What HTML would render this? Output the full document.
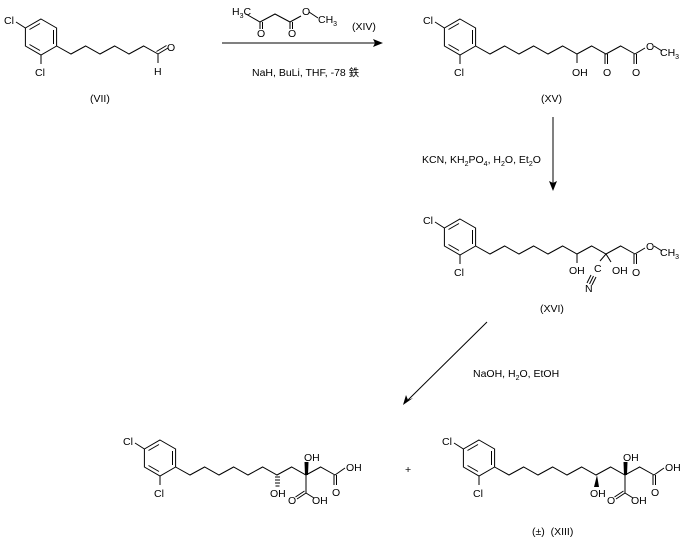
<!DOCTYPE html>
<html><head><meta charset="utf-8"><style>
html,body{margin:0;padding:0;background:#fff;}
svg{display:block;}
text{font-family:"Liberation Sans","Noto Sans CJK SC",sans-serif;font-size:10.5px;fill:#000;}
</style></head><body>
<svg width="687" height="544" viewBox="0 0 687 544" xmlns="http://www.w3.org/2000/svg">
<defs>
<g id="ring" stroke="#000" stroke-width="1" fill="none">
<polygon points="41,19 56.6,28 56.6,46 41,55 25.4,46 25.4,28"/>
<line x1="53.5" y1="30" x2="53.5" y2="44"/>
<line x1="29.5" y1="29.5" x2="40" y2="23.5"/>
<line x1="29.5" y1="44.5" x2="40" y2="50.5"/>
<line x1="25.4" y1="28" x2="16" y2="22"/>
<line x1="41" y1="55" x2="41" y2="64"/>
</g>
<g id="chain" stroke="#000" stroke-width="1" fill="none">
<polyline points="56.6,46 71,54 85.6,46 100,54 114.6,46 129,54 143.6,46 158,54 172.6,46 187,54 201.6,46 216,54"/>
</g>
</defs>
<g stroke="#000" stroke-width="1" fill="none">
<use href="#ring"/>
<polyline points="56.6,46 71,54 85.6,46 100,54 114.6,46 129,54 143.6,46 158,54"/>
<line x1="158" y1="54" x2="168" y2="48"/><line x1="156.5" y1="51.5" x2="166.5" y2="45.5"/>
<line x1="158" y1="54" x2="158" y2="63"/>
<polyline points="246,14 260,22 275,14 290,22 301,16"/>
<line x1="260" y1="22" x2="260" y2="29"/><line x1="262.5" y1="22" x2="262.5" y2="29"/>
<line x1="290" y1="22" x2="290" y2="29"/><line x1="292.5" y1="22" x2="292.5" y2="29"/>
<line x1="309" y1="12" x2="318" y2="18"/>
<line x1="222" y1="43" x2="378" y2="43"/>
<g transform="translate(419,0)">
<use href="#ring"/><use href="#chain"/>
<line x1="158" y1="54" x2="158" y2="63"/>
<line x1="186" y1="54" x2="186" y2="64"/><line x1="188.5" y1="54" x2="188.5" y2="64"/>
<line x1="215" y1="54" x2="215" y2="64"/><line x1="217.5" y1="54" x2="217.5" y2="64"/>
<line x1="216" y1="54" x2="226" y2="48"/><line x1="235" y1="46" x2="243" y2="51"/>
</g>
<line x1="553" y1="117" x2="553" y2="184"/>
<g transform="translate(419,200)">
<use href="#ring"/><use href="#chain"/>
<line x1="158" y1="54" x2="158" y2="63"/>
<line x1="187" y1="54" x2="181" y2="61"/>
<line x1="187" y1="54" x2="192" y2="62"/>
<line x1="168" y1="83" x2="172" y2="75"/><line x1="170.5" y1="84" x2="174.5" y2="76"/><line x1="173" y1="85" x2="177" y2="77"/>
<line x1="215" y1="54" x2="215" y2="64"/><line x1="217.5" y1="54" x2="217.5" y2="64"/>
<line x1="216" y1="54" x2="226" y2="48"/><line x1="235" y1="46" x2="243" y2="51"/>
</g>
<line x1="487" y1="322" x2="408" y2="400"/>
<g transform="translate(119,421)">
<use href="#ring"/><use href="#chain"/>
<line x1="187" y1="54" x2="187" y2="72"/>
<line x1="187" y1="72" x2="178" y2="78"/><line x1="185.5" y1="70" x2="176.5" y2="76"/>
<line x1="187" y1="72" x2="195" y2="77"/>
<line x1="215" y1="54" x2="215" y2="64"/><line x1="217.5" y1="54" x2="217.5" y2="64"/>
<line x1="216" y1="54" x2="226" y2="47"/>
</g>
<g transform="translate(438,421)">
<use href="#ring"/><use href="#chain"/>
<line x1="187" y1="54" x2="187" y2="72"/>
<line x1="187" y1="72" x2="178" y2="78"/><line x1="185.5" y1="70" x2="176.5" y2="76"/>
<line x1="187" y1="72" x2="195" y2="77"/>
<line x1="215" y1="54" x2="215" y2="64"/><line x1="217.5" y1="54" x2="217.5" y2="64"/>
<line x1="216" y1="54" x2="226" y2="47"/>
</g>
</g>
<polygon points="383,43 373,39 375,43 373,47" fill="#000"/>
<polygon points="553,191 549,181 553,183 557,181" fill="#000"/>
<polygon points="403,405 406,395 408,400 413,398" fill="#000"/>
<g stroke="#000" stroke-width="1">
<line x1="275" y1="477" x2="280" y2="477"/><line x1="275" y1="480" x2="280" y2="480"/><line x1="275" y1="483" x2="280" y2="483"/><line x1="275.5" y1="486" x2="279.5" y2="486"/>
</g>
<polygon points="305,475 308,475 308.5,462 304.5,462" fill="#000"/>
<polygon points="624,475 627,475 627.5,462 623.5,462" fill="#000"/>
<polygon points="597,475 594,487 599,487" fill="#000"/>
<text x="4" y="24">Cl</text><text x="35" y="76">Cl</text>
<text x="167" y="51">O</text><text x="154" y="75">H</text>
<text x="90" y="102">(VII)</text>
<text x="232" y="15">H<tspan font-size="7" dy="3">3</tspan><tspan dy="-3">C</tspan></text>
<text x="257" y="37">O</text><text x="288" y="37">O</text>
<text x="302" y="15">O</text>
<text x="318" y="23">CH<tspan font-size="7" dy="3">3</tspan></text>
<text x="352" y="30">(XIV)</text>
<text x="252" y="76">NaH, BuLi, THF, -78 鉄</text>
<text x="423" y="24">Cl</text><text x="454" y="76">Cl</text>
<text x="572" y="76">OH</text><text x="603" y="76">O</text><text x="632" y="76">O</text>
<text x="646" y="50">O</text><text x="660" y="56">CH<tspan font-size="7" dy="3">3</tspan></text>
<text x="541" y="102">(XV)</text>
<text x="422" y="163">KCN, KH<tspan font-size="7" dy="3">2</tspan><tspan dy="-3">PO</tspan><tspan font-size="7" dy="3">4</tspan><tspan dy="-3">, H</tspan><tspan font-size="7" dy="3">2</tspan><tspan dy="-3">O, Et</tspan><tspan font-size="7" dy="3">2</tspan><tspan dy="-3">O</tspan></text>
<text x="423" y="224">Cl</text><text x="454" y="276">Cl</text>
<text x="569" y="274">OH</text><text x="594" y="272">C</text><text x="585" y="292">N</text>
<text x="612" y="274">OH</text><text x="632" y="276">O</text>
<text x="646" y="250">O</text><text x="660" y="256">CH<tspan font-size="7" dy="3">3</tspan></text>
<text x="540" y="312">(XVI)</text>
<text x="473" y="377">NaOH, H<tspan font-size="7" dy="3">2</tspan><tspan dy="-3">O, EtOH</tspan></text>
<text x="123" y="445">Cl</text><text x="154" y="497">Cl</text>
<text x="270" y="497">OH</text><text x="304" y="461">OH</text>
<text x="288" y="504">O</text><text x="312" y="504">OH</text>
<text x="332" y="496">O</text><text x="346" y="471">OH</text>
<text x="405" y="473">+</text>
<text x="442" y="445">Cl</text><text x="473" y="497">Cl</text>
<text x="590" y="497">OH</text><text x="623" y="461">OH</text>
<text x="607" y="504">O</text><text x="631" y="504">OH</text>
<text x="651" y="496">O</text><text x="665" y="471">OH</text>
<text x="532" y="535">(±)&#160;&#160;(XIII)</text>
</svg>
</body></html>
